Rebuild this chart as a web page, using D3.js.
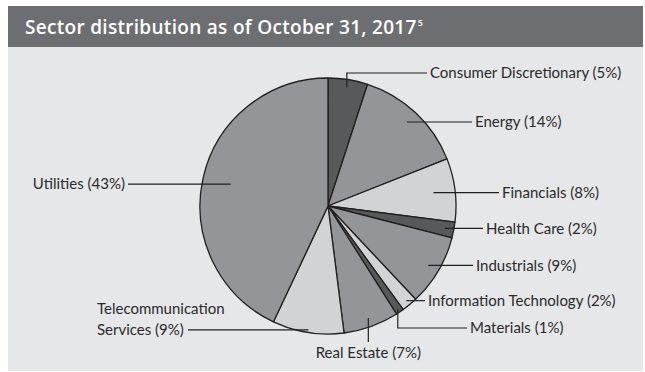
<!DOCTYPE html>
<html>
<head>
<meta charset="utf-8">
<script src="https://cdn.jsdelivr.net/npm/d3@7"></script>
<style>
  html, body { margin: 0; padding: 0; background: #ffffff; }
  svg { display: block; }
  .lbl { font-family: Lato, "Noto Sans", sans-serif; font-size: 15px; fill: #2b2a2b; }
  .title { font-family: "Open Sans", Lato, sans-serif; font-weight: 600; font-size: 19px; fill: #ffffff; letter-spacing: 0.3px; }
</style>
</head>
<body>
<svg id="chart" width="645" height="372"></svg>
<script>
// Sector weights, clockwise from 12 o'clock
const sectors = [
  "Consumer Discretionary", "Energy", "Financials", "Health Care", "Industrials",
  "Information Technology", "Materials", "Real Estate", "Telecommunication Services", "Utilities"
];
const weights = [5, 14, 8, 2, 9, 2, 1, 7, 9, 43];
const shades = ["dark", "mid", "light", "dark", "mid", "light", "dark", "mid", "light", "mid"];
const titleText = "Sector distribution as of October 31, 2017";
const titleNote = "5";

const palette = { dark: "#58595b", mid: "#939598", light: "#d1d3d4" };
const ink = "#231f20";

const cx = 328, cy = 206, R = 128;

const svg = d3.select("#chart");

// panel + header band
svg.append("rect").attr("x", 8).attr("y", 6).attr("width", 635).attr("height", 365).attr("fill", "#e6e7e8");
svg.append("rect").attr("x", 8).attr("y", 6).attr("width", 635).attr("height", 41).attr("fill", "#6d6e71");

const title = svg.append("text").attr("class", "title").attr("x", 25).attr("y", 34);
title.append("tspan").text(titleText);
title.append("tspan").attr("dy", -8).attr("dx", 1).style("font-size", "9px").style("letter-spacing", "0").text(titleNote);

const data = sectors.map((s, i) => ({ sector: s, value: weights[i], shade: shades[i] }));

const pie = d3.pie().value(d => d.value).sort(null);
const arcs = pie(data);
const arc = d3.arc().innerRadius(0).outerRadius(R);

const g = svg.append("g").attr("transform", `translate(${cx},${cy})`);
g.selectAll("path.slice")
  .data(arcs)
  .join("path")
  .attr("class", "slice")
  .attr("d", arc)
  .attr("fill", d => palette[d.data.shade])
  .attr("stroke", ink)
  .attr("stroke-width", 1.3)
  .attr("stroke-linejoin", "round");

// Leader layout per sector: where the leader starts (fraction of radius along
// the slice's mid-angle), how it is routed, and where the label sits.
const leaders = {
  "Consumer Discretionary": { k: 0.94, route: "up", ly: 73, lx: 427 },
  "Energy": { k: 0.90, route: "right", lx: 472 },
  "Financials": { k: 0.83, route: "right", lx: 499 },
  "Health Care": { k: 0.93, route: "right", lx: 483 },
  "Industrials": { k: 0.91, route: "right", lx: 473 },
  "Information Technology": { k: 0.96, route: "right", lx: 425 },
  "Materials": { k: 0.97, route: "down", ly: 328, lx: 467 },
  "Real Estate": { k: 0.93, route: "below", ly: 342 },
  "Telecommunication Services": { k: 0.98, route: "leftTwo", lx: 188 },
  "Utilities": { k: 0.78, route: "left", lx: 128 }
};

const lines = svg.append("g").attr("fill", "none").attr("stroke", ink).attr("stroke-width", 1.2);
const labels = svg.append("g");

arcs.forEach(a => {
  const name = a.data.sector;
  const L = leaders[name];
  const mid = (a.startAngle + a.endAngle) / 2;
  const sx = cx + Math.sin(mid) * R * L.k;
  const sy = cy - Math.cos(mid) * R * L.k;
  const txt = `${name} (${a.data.value}%)`;
  let pts;
  if (L.route === "right") {
    pts = [[sx, sy], [L.lx, sy]];
    labels.append("text").attr("class", "lbl").attr("x", L.lx + 3).attr("y", sy).attr("dy", "0.35em").text(txt);
  } else if (L.route === "left") {
    pts = [[sx, sy], [L.lx, sy]];
    labels.append("text").attr("class", "lbl").attr("x", L.lx - 3).attr("y", sy).attr("dy", "0.35em").attr("text-anchor", "end").text(txt);
  } else if (L.route === "up" || L.route === "down") {
    pts = [[sx, sy], [sx, L.ly], [L.lx, L.ly]];
    labels.append("text").attr("class", "lbl").attr("x", L.lx + 3).attr("y", L.ly).attr("dy", "0.35em").text(txt);
  } else if (L.route === "below") {
    pts = [[sx, sy], [sx, L.ly]];
    labels.append("text").attr("class", "lbl").attr("x", sx).attr("y", L.ly + 11).attr("dy", "0.35em").attr("text-anchor", "middle").text(txt);
  } else if (L.route === "leftTwo") {
    pts = [[sx, sy], [L.lx, sy]];
    const words = name.split(" ");
    const t = labels.append("text").attr("class", "lbl").attr("x", 97).attr("y", sy).attr("dy", "0.35em");
    t.append("tspan").attr("x", 97).attr("dy", "-1.03em").text(words[0]);
    t.append("tspan").attr("x", 97).attr("dy", "1.38em").text(`${words.slice(1).join(" ")} (${a.data.value}%)`);
  }
  lines.append("path").attr("d", d3.line()(pts));
});
</script>
</body>
</html>
